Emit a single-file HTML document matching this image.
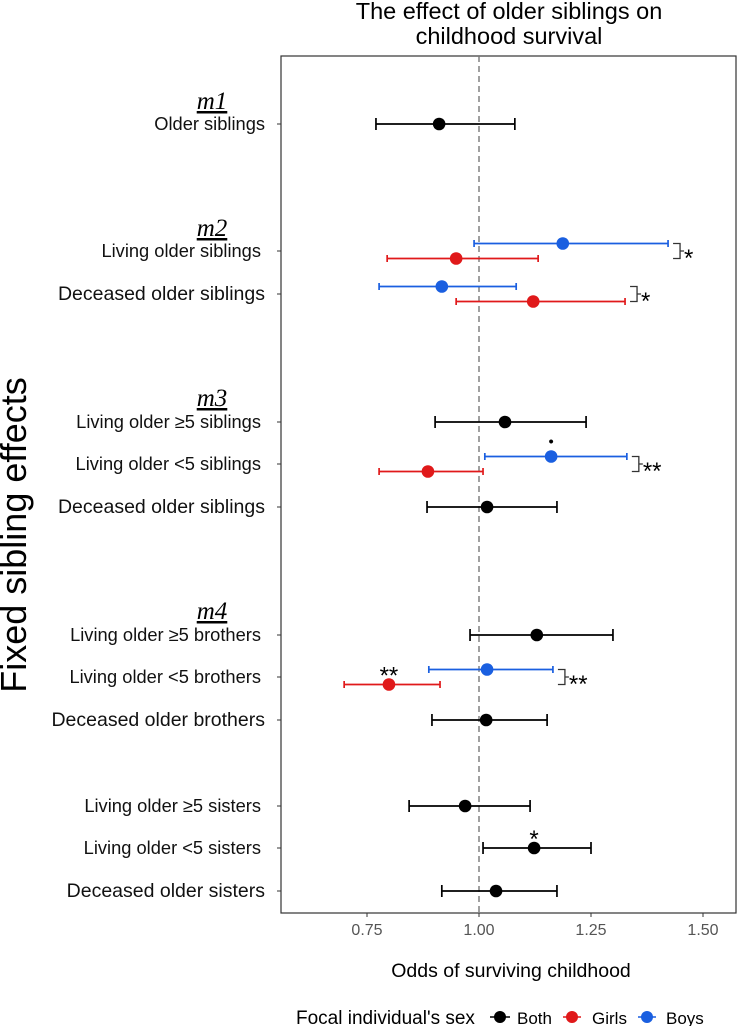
<!DOCTYPE html>
<html><head><meta charset="utf-8"><style>
html,body{margin:0;padding:0;background:#fff;}
svg{display:block;font-family:"Liberation Sans",sans-serif;}
</style></head><body>
<svg id="chart" width="737" height="1026" viewBox="0 0 737 1026">
<text x="509" y="19" text-anchor="middle" font-size="23.5">The effect of older siblings on</text>
<text x="509" y="44" text-anchor="middle" font-size="23.5">childhood survival</text>
<rect x="281" y="56" width="455" height="857" fill="none" stroke="#333" stroke-width="1.2"/>
<g id="marks"></g>
<text transform="translate(26,535) rotate(-90)" text-anchor="middle" font-size="36">Fixed sibling effects</text>
<text x="511" y="977" text-anchor="middle" font-size="19.5">Odds of surviving childhood</text>
<g>
<text x="296" y="1024" font-size="19">Focal individual's sex</text>
<g><line x1="490" y1="1017" x2="510" y2="1017" stroke="#000" stroke-width="1.5"/><circle cx="500" cy="1017" r="6" fill="#000"/><text x="517" y="1024" font-size="17">Both</text></g>
<g><line x1="563" y1="1017" x2="581" y2="1017" stroke="#e0191a" stroke-width="1.5"/><circle cx="572" cy="1017" r="6" fill="#e0191a"/><text x="592" y="1024" font-size="17">Girls</text></g>
<g><line x1="638" y1="1017" x2="656" y2="1017" stroke="#1a5fe0" stroke-width="1.5"/><circle cx="647" cy="1017" r="6" fill="#1a5fe0"/><text x="666" y="1024" font-size="17">Boys</text></g>
</g>
</svg>
<script>
const xTicks = [0.75, 1.00, 1.25, 1.50];
const xTickLabels = ["0.75", "1.00", "1.25", "1.50"];
const rowLabels = ["Older siblings","Living older siblings","Deceased older siblings","Living older \u22655 siblings","Living older <5 siblings","Deceased older siblings","Living older \u22655 brothers","Living older <5 brothers","Deceased older brothers","Living older \u22655 sisters","Living older <5 sisters","Deceased older sisters"];
const rowY = [124,251,294,422,464,507,635,677,720,806,848,891];
const rowFont = [18.3,18.3,19.5,18.3,18.3,19.5,18.3,18.3,19.5,18.3,18.3,19.5];
const rowRight = [265,261,265,261,261,265,261,261,265,261,261,265];
const groupLabels = ["m1","m2","m3","m4"];
const groupY = [101,228,398,611];
const estRow = [0,1,1,2,2,3,4,4,5,6,7,7,8,9,10,11];
const estSeries = ["Both","Boys","Girls","Boys","Girls","Both","Boys","Girls","Both","Both","Boys","Girls","Both","Both","Both","Both"];
const estOffset = [0,-1,1,-1,1,0,-1,1,0,0,-1,1,0,0,0,0];
const estPoint = [0.911,1.187,0.949,0.917,1.121,1.058,1.161,0.886,1.018,1.129,1.018,0.799,1.016,0.969,1.123,1.038];
const estLow = [0.770,0.989,0.795,0.777,0.949,0.902,1.013,0.777,0.884,0.980,0.888,0.699,0.895,0.844,1.009,0.917];
const estHigh = [1.080,1.422,1.132,1.083,1.326,1.239,1.330,1.009,1.174,1.299,1.165,0.913,1.152,1.114,1.250,1.174];
const estSig = ["","","","","","","\u2022","","","","","**","","","*",""];
const pairRow = [1,2,4,7];
const pairSig = ["*","*","**","**"];

const colors = {Both:"#000", Girls:"#e0191a", Boys:"#1a5fe0"};
const NS = "http://www.w3.org/2000/svg";
const X = v => 479 + (v - 1) * 448;
const g = document.getElementById('marks');
function mk(tag, attrs, parent){ const e=document.createElementNS(NS,tag); for(const k in attrs) e.setAttribute(k,attrs[k]); (parent||g).appendChild(e); return e; }

const ref = mk('line',{x1:X(1),x2:X(1),y1:56,y2:913,stroke:'#777','stroke-width':1.4,'stroke-dasharray':'6,4'});



xTicks.forEach((t,i)=>{
  const tk = mk('line',{x1:X(t),x2:X(t),y1:913,y2:917,stroke:'#333'});
  
  
  const tl = mk('text',{x:X(t),y:935,'text-anchor':'middle','font-size':16,fill:'#555'});
  tl.textContent = xTickLabels[i];
  
  
});

rowLabels.forEach((lab,i)=>{
  const tk = mk('line',{x1:277,x2:281,y1:rowY[i],y2:rowY[i],stroke:'#333'});
  
  
  const t = mk('text',{x:rowRight[i],y:rowY[i]+6,'text-anchor':'end','font-size':rowFont[i],fill:'#111'});
  t.textContent = lab;
  
  
});

groupLabels.forEach((lab,i)=>{
  const t = mk('text',{x:212,y:groupY[i]+8,'text-anchor':'middle','font-size':25,'font-style':'italic','font-family':'"Liberation Serif",serif','text-decoration':'underline'});
  t.textContent = lab;
  
  
});

estPoint.forEach((p,i)=>{
  const y = rowY[estRow[i]] + estOffset[i]*7.5;
  const c = colors[estSeries[i]];
  const cap = estSeries[i]==="Both" ? 6 : 3.5;
  const grp = mk('g',{});
  
  
  mk('line',{x1:X(estLow[i]),x2:X(estHigh[i]),y1:y,y2:y,stroke:c,'stroke-width':1.7},grp);
  mk('line',{x1:X(estLow[i]),x2:X(estLow[i]),y1:y-cap,y2:y+cap,stroke:c,'stroke-width':1.7},grp);
  mk('line',{x1:X(estHigh[i]),x2:X(estHigh[i]),y1:y-cap,y2:y+cap,stroke:c,'stroke-width':1.7},grp);
  mk('circle',{cx:X(p),cy:y,r:6.3,fill:c},grp);
  if(estSig[i]){
    const dot = estSig[i]==="\u2022";
    const s = mk('text',{x:X(p),y:y-(dot?10:1),'text-anchor':'middle','font-size':dot?15:24});
    s.textContent = estSig[i];
    
    
  }
});

pairRow.forEach((r,k)=>{
  let hi = 0;
  estRow.forEach((rr,i)=>{ if(rr===r && estHigh[i]>hi) hi = estHigh[i]; });
  const bx = X(hi) + 5, y1 = rowY[r]-7.5, y2 = rowY[r]+7.5;
  const b = mk('path',{d:`M${bx},${y1} H${bx+7} V${y2} H${bx} M${bx+7},${rowY[r]} H${bx+11}`,fill:'none',stroke:'#333','stroke-width':1.3});
  
  
  const t = mk('text',{x:bx+11,y:rowY[r]+15,'font-size':24});
  t.textContent = pairSig[k];
  
  
});
</script>
</body></html>
